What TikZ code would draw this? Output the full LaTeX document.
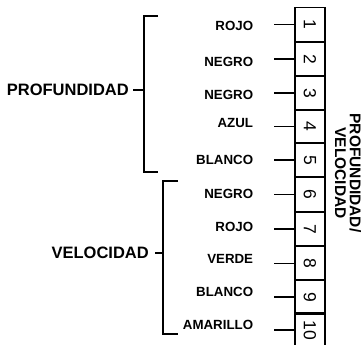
\documentclass[tikz,border=0pt]{standalone}
\usepackage{fontspec}
\usepackage{graphicx}
\setmainfont{Liberation Sans}
\tikzset{
  biglabel/.style={font=\fontsize{16.5}{18}\selectfont\bfseries, inner sep=0pt, anchor=east},
  smalllabel/.style={font=\fontsize{13.3}{15}\selectfont\bfseries, inner sep=0pt, anchor=east},
  slot/.style={draw, line width=1.35pt, minimum width=30pt, minimum height=34pt, inner sep=0pt, font=\fontsize{17.5}{17.5}\selectfont},
  wire/.style={line width=1.2pt},
  sidelabel/.style={rotate=-90, align=center, inner sep=0pt, font=\fontsize{15.5}{14.8}\selectfont\bfseries},
}
\begin{document}
\begin{tikzpicture}[x=1pt,y=-1pt]
\useasboundingbox (0,0) rectangle (364,345);
% boxes
\node[slot] (b1) at (310,24.5) {\rotatebox{-90}{1}};
\node[slot] (b2) at (310,59) {\rotatebox{-90}{2}};
\node[slot] (b3) at (310,93) {\rotatebox{-90}{3}};
\node[slot] (b4) at (310,126.5) {\rotatebox{-90}{4}};
\node[slot] (b5) at (310,160) {\rotatebox{-90}{5}};
\node[slot] (b6) at (310,194.5) {\rotatebox{-90}{6}};
\node[slot] (b7) at (310,229) {\rotatebox{-90}{7}};
\node[slot] (b8) at (310,263.5) {\rotatebox{-90}{8}};
\node[slot] (b9) at (310,297) {\rotatebox{-90}{9}};
\node[slot] (b10) at (310,330) {\rotatebox{-90}{10}};
% labels
\node[smalllabel] (l1) at (253.3,26) {ROJO};
\node[smalllabel] (l2) at (253.3,62) {NEGRO};
\node[smalllabel] (l3) at (253.3,94.5) {NEGRO};
\node[smalllabel] (l4) at (253.3,123) {AZUL};
\node[smalllabel] (l5) at (253.3,159.5) {BLANCO};
\node[smalllabel] (l6) at (253.3,193.7) {NEGRO};
\node[smalllabel] (l7) at (253.3,227) {ROJO};
\node[smalllabel] (l8) at (253.3,259) {VERDE};
\node[smalllabel] (l9) at (253.3,292) {BLANCO};
\node[smalllabel] (l10) at (253.3,325) {AMARILLO};
% wires
\foreach \i in {1,...,10} {
  \draw[wire] (b\i.west) -- ++(-20,0);
}
% side label
\node[sidelabel] (side) at (348,173) {PROFUNDIDAD/\\VELOCIDAD};
% group labels and brackets
\node[biglabel] (pf) at (129,90) {PROFUNDIDAD};
\node[biglabel] (vl) at (149,253) {VELOCIDAD};
\coordinate (pft) at (158,16);
\coordinate (pfb) at (158,172);
\coordinate (vlt) at (178,181);
\coordinate (vlb) at (178,334);
\draw[wire] (pft) -- (144,16) -- (144,172) -- (pfb);
\draw[wire] ([xshift=4pt]pf.east) -- (144,90);
\draw[wire] (vlt) -- (163,181) -- (163,334) -- (vlb);
\draw[wire] ([xshift=6pt]vl.east) -- (163,253);
\end{tikzpicture}
\end{document}
